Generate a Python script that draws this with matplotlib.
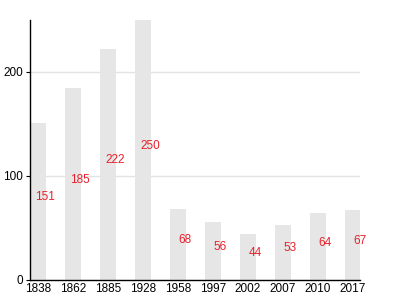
import matplotlib
matplotlib.use('Agg')
import matplotlib.pyplot as plt

plt.rcParams['font.family'] = ['Liberation Sans', 'DejaVu Sans']

years = ['1838', '1862', '1885', '1928', '1958', '1997', '2002', '2007', '2010', '2017']
values = [151, 185, 222, 250, 68, 56, 44, 53, 64, 67]

fig = plt.figure(figsize=(4, 3), dpi=100)
ax = fig.add_axes([0.075, 0.0667, 0.825, 0.8667])

x = list(range(len(years)))
ax.bar(x, values, width=0.46, color='#e6e6e6', zorder=2)
for xi, v in zip(x, values):
    ax.text(xi + 0.2, v / 2 + 4, str(v), color='#e8202a', fontsize=8.5,
            ha='center', va='center', zorder=3)

ax.set_xlim(-0.23, 9.2)
ax.set_ylim(0, 250)
ax.set_yticks([0, 100, 200])
ax.set_xticks(x)
ax.set_xticklabels(years)
ax.tick_params(axis='x', length=0, labelsize=8.5, pad=2)
ax.tick_params(axis='y', length=3, labelsize=8.5, pad=2)
ax.grid(axis='y', color='#e3e3e3', linewidth=1, zorder=1)
for s in ['top', 'right']:
    ax.spines[s].set_visible(False)
ax.spines['left'].set_linewidth(1)
ax.spines['bottom'].set_linewidth(1)

fig.savefig('out.png', dpi=100)
